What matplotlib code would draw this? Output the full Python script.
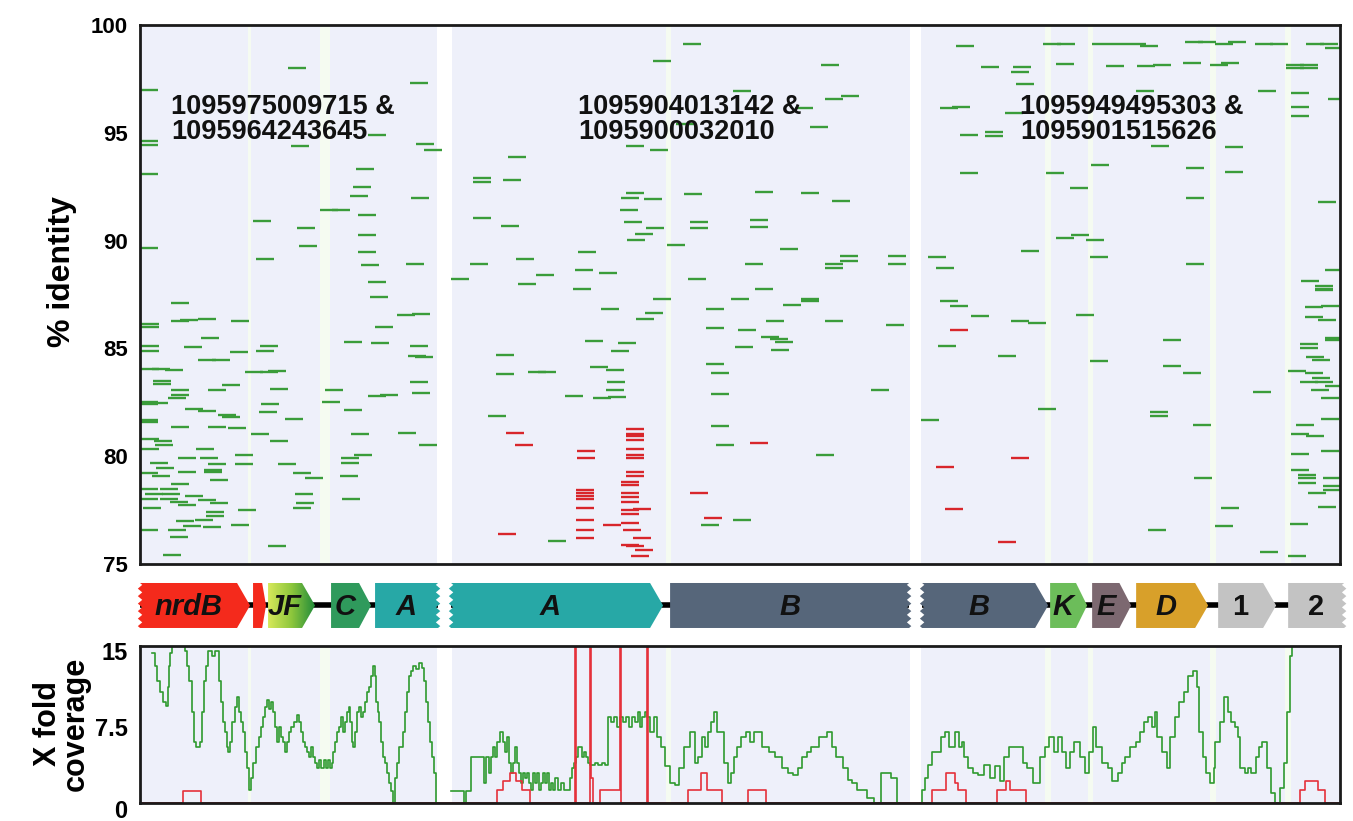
import numpy as np
import matplotlib.pyplot as plt
import matplotlib.transforms as mtransforms
from matplotlib.patches import Polygon
from matplotlib.colors import LinearSegmentedColormap

plt.rcParams['font.family'] = ['Liberation Sans', 'DejaVu Sans']

# ---------------- % identity hits (position along the three contigs, identity) ----------------
green_pos = [
    # contig 1 / left of contig 2
    0, 148, 270, 0, 0, 151, 228, 276, 284, 0,
    216, 213, 210, 271, 180, 192, 113, 157, 218, 218,
    159, 218, 0, 116, 221, 266, 228, 230, 368, 333,
    333, 363, 333, 361, 376, 330, 311, 378, 396,
    # contig 2 upper
    543, 513, 681, 593, 685, 701, 655, 670, 536, 486,
    510, 486, 481, 504, 544, 615, 661, 692, 480, 484,
    506, 495, 487, 550, 550, 610, 610, 527, 640, 438,
    435, 459, 433, 605, 615, 548, 685, 685, 700, 700,
    748, 748, 788, 796,
    # contig 3 upper
    816, 903, 917, 952, 970, 988, 1000, 1045, 1058, 1075,
    1088, 1115, 1130, 1166, 1180, 1185, 841, 873, 871, 876,
    916, 966, 997, 1013, 1043, 1070, 1081, 1146, 1160, 1146,
    1160, 996, 1118, 1151, 1188, 800, 812, 865, 820, 845,
    845, 1011, 1085, 1151, 1151, 820, 906, 951, 930, 1046,
    1085, 1046, 1178, 916, 931, 946, 881, 950, 1046, 1185,
    1161, 1175, 1175,
    # contig 1 lower
    31, 31, 40, 58, 91, 1, 1, 61, 44, 90,
    120, 116, 1, 1, 58, 72, 1, 12, 25, 13,
    13, 105, 120, 128, 82, 68, 31, 31, 28, 0,
    10, 0, 45, 58, 78, 82, 0, 0, 31, 68,
    88, 1, 14, 15, 1, 56, 95, 38, 60, 10,
    68, 95, 16, 64, 64, 38, 0, 12, 70, 31,
    0, 20, 5, 22, 45, 0, 20, 30, 38, 58,
    70, 3, 98, 66, 66, 55, 36, 43, 63, 91,
    28, 0, 30, 128, 23, 121, 119, 130, 111, 130,
    138, 145, 153, 165, 155, 156, 153, 185, 182, 204,
    211, 214, 201, 201, 200, 202, 204, 257, 272, 235,
    231, 270, 268, 275, 270, 272, 228, 240, 258, 279,
    356, 356, 388, 348,
    # contig 2 lower
    461, 513, 505, 496, 445, 478, 471, 450, 466, 467,
    466, 425, 453, 468, 398, 408, 566, 591, 643, 661,
    661, 626, 685, 746, 566, 598, 621, 630, 635, 595,
    631, 566, 571, 571, 731, 571, 576, 676, 781, 561,
    593,
    # contig 3 lower
    800, 810, 831, 871, 888, 936, 798, 858, 950, 1023,
    1023, 1043, 898, 1113, 1010, 1010, 1053, 1054, 1081, 1008,
    1075, 1120, 1148, 1175, 1165, 1181, 1165, 1178, 1185, 1185,
    1160, 1160, 1166, 1172, 1148, 1165, 1172, 1160, 1175, 1185,
    1171, 1181, 1181, 1156, 1151, 1166, 1181, 1151, 1151, 1158,
    1158, 1183, 1158, 1183, 1183, 1168, 1178, 1150,
]
green_ident = [
    97.0, 98.0, 97.3, 94.6, 94.45, 94.4, 94.9, 94.5, 94.2, 93.1,
    93.3, 92.5, 92.05, 92.0, 91.4, 91.4, 90.9, 90.6, 91.2, 90.25,
    89.75, 89.45, 89.65, 89.15, 88.85, 88.9, 88.1, 87.4, 93.9, 92.9,
    92.7, 92.8, 91.05, 90.7, 89.15, 88.9, 88.2, 88.0, 88.4,
    99.1, 98.35, 98.15, 96.95, 96.55, 96.7, 96.15, 95.25, 95.4, 94.4,
    94.2, 92.2, 92.0, 91.95, 92.15, 92.25, 92.2, 91.85, 91.4, 90.85,
    90.6, 90.3, 90.05, 90.85, 90.6, 90.95, 90.65, 89.8, 89.6, 89.45,
    88.65, 88.5, 87.75, 88.9, 87.75, 88.2, 88.9, 88.75, 89.3, 89.05,
    89.3, 88.9, 89.25, 88.75,
    99.05, 99.1, 99.1, 99.1, 99.1, 99.1, 99.05, 99.2, 99.2, 99.1,
    99.2, 99.1, 99.1, 99.1, 99.1, 98.95, 98.05, 98.05, 97.8, 97.25,
    98.2, 98.1, 98.1, 98.15, 98.25, 98.15, 98.25, 98.15, 98.15, 98.0,
    98.0, 96.95, 96.95, 96.85, 96.55, 96.15, 96.2, 95.9, 94.9, 95.05,
    94.85, 94.4, 94.35, 96.2, 95.8, 93.15, 93.15, 93.5, 92.45, 93.35,
    93.2, 92.0, 91.8, 90.1, 90.25, 90.05, 89.5, 89.25, 88.9, 88.65,
    88.15, 87.9, 87.75,
    87.1, 86.25, 86.3, 86.35, 86.25, 86.15, 86.0, 85.5, 85.05, 84.85,
    85.1, 84.9, 85.1, 84.9, 84.45, 84.45, 84.05, 84.05, 84.0, 83.5,
    83.35, 83.9, 83.9, 83.95, 83.3, 83.05, 83.05, 82.85, 82.7, 82.5,
    82.45, 82.4, 82.2, 82.1, 81.9, 81.8, 81.7, 81.6, 81.35, 81.35,
    81.3, 80.8, 80.7, 80.5, 80.35, 80.35, 80.05, 79.9, 79.9, 79.7,
    79.65, 79.65, 79.45, 79.35, 79.25, 79.25, 79.2, 79.1, 78.9, 78.7,
    78.5, 78.5, 78.25, 78.25, 78.15, 78.0, 78.0, 77.9, 77.75, 77.95,
    77.85, 77.6, 77.5, 77.4, 77.25, 77.05, 77.0, 76.75, 76.7, 76.8,
    76.6, 76.6, 76.25, 75.85, 75.4, 82.4, 82.05, 83.1, 81.05, 80.7,
    79.65, 81.75, 79.2, 79.0, 78.25, 77.85, 77.6, 83.05, 82.5, 82.15,
    81.05, 80.05, 79.9, 79.7, 79.1, 78.0, 85.3, 86.55, 86.6, 86.0,
    85.25, 85.1, 84.65, 84.6, 83.45, 82.95, 82.8, 82.85, 81.1, 80.5,
    84.7, 83.8, 83.9, 81.85,
    86.85, 87.3, 86.65, 86.35, 85.35, 85.25, 84.9, 84.15, 84.0, 83.45,
    83.05, 82.8, 82.7, 82.75, 83.9, 76.05, 86.85, 87.3, 87.0, 87.3,
    87.2, 86.25, 86.25, 86.1, 85.95, 85.85, 85.55, 85.45, 85.3, 85.05,
    84.95, 84.3, 83.85, 82.9, 83.05, 81.4, 80.5, 80.05, 81.7, 76.8,
    77.05,
    87.2, 86.95, 86.5, 86.25, 86.2, 86.55, 85.1, 84.65, 84.4, 85.4,
    84.2, 83.85, 82.2, 83.0, 82.05, 81.85, 81.45, 79.0, 77.6, 76.6,
    76.75, 75.55, 75.35, 87.7, 86.9, 86.95, 86.45, 86.3, 85.5, 85.4,
    85.2, 85.0, 84.6, 84.45, 83.95, 83.85, 83.65, 83.45, 83.45, 83.25,
    83.05, 82.7, 81.75, 81.45, 81.05, 80.95, 80.25, 80.1, 79.35, 79.15,
    79.0, 79.0, 78.75, 78.6, 78.45, 78.3, 77.65, 76.85,
]
red_pos = [
    366, 375, 358, 610, 796, 550, 564, 437, 437, 436,
    436, 436, 436, 436, 436, 436, 436, 463, 486, 486,
    486, 486, 486, 486, 486, 486, 486, 481, 481, 481,
    481, 481, 481, 481, 493, 481, 483, 493, 481, 486,
    495, 491, 810, 871, 805, 858,
]
red_ident = [
    81.1, 80.5, 76.4, 80.6, 79.5, 78.3, 77.15, 80.25, 79.9, 78.45,
    78.3, 78.15, 78.0, 77.6, 77.05, 76.6, 76.2, 76.8, 81.25, 81.05,
    80.95, 80.75, 80.35, 80.05, 79.9, 79.25, 79.1, 78.8, 78.65, 78.3,
    78.1, 77.9, 77.5, 77.3, 77.55, 76.9, 76.6, 76.2, 75.9, 75.85,
    75.65, 75.35, 85.85, 79.9, 77.55, 76.0,
]
hit_len = 18

pair_labels = ['1095975009715 &\n1095964243645',
               '1095904013142 &\n1095900032010',
               '1095949495303 &\n1095901515626']
pair_label_pos = [31, 438, 880]

# ---------------- coverage (step values) ----------------
cov1_x = [12, 15, 17, 20, 23, 26, 28, 29, 30, 32, 45, 47, 49, 52, 54, 56, 58, 60, 62, 64,
          66, 68, 72, 75, 79, 81, 83, 85, 87, 88, 90, 92, 95, 97, 99, 101, 103, 105, 107, 109,
          111, 113, 116, 119, 121, 123, 125, 127, 129, 131, 133, 135, 137, 139, 141, 143, 145, 147, 149, 151,
          154, 157, 159, 161, 163, 165, 167, 169, 171, 173, 175, 177, 179, 181, 184, 186, 188, 190, 192, 193,
          195, 197, 199, 201, 203, 205, 207, 209, 210, 212, 213, 215, 217, 219, 221, 223, 225, 227, 229, 231,
          233, 235, 236, 238, 239, 241, 243, 245, 247, 249, 251, 253, 255, 257, 259, 261, 263, 265, 267, 269,
          271, 273, 276, 279, 282, 284, 286, 288, 290, 292, 294, 296]
cov1_y = [14.8, 13.5, 12, 11, 10, 9.6, 11.5, 13.5, 14.8, 18, 15, 13.5, 12, 9, 6, 5.5, 5.5, 6, 9, 12,
          13.5, 15, 14.5, 15, 12, 10, 8, 7, 5.5, 5, 6, 8, 9.5, 10.5, 9, 8, 7, 5, 3.5, 1.3,
          2.5, 4, 5.5, 6.5, 7.5, 8.5, 9.5, 10.2, 9.3, 10, 9, 7.5, 6, 7.5, 6.5, 6, 5, 6, 7, 7.5,
          8, 8.7, 8, 7, 6, 5.5, 5, 4.5, 5.5, 4.5, 4, 3.5, 4.2, 3.5, 4.2, 3.5, 4.2, 3.5, 4, 5,
          6, 7, 7.5, 8.5, 7, 8, 9, 9.5, 8, 6, 5.5, 7, 9, 9.5, 8.5, 9, 10, 11, 11.5, 12.5,
          13.5, 12.5, 10, 9, 8, 6, 4.5, 4, 3, 2, 1.2, 0, 2.5, 4, 5.5, 5.5, 7, 9, 11, 12.5,
          13, 13.5, 13.2, 13.8, 13.3, 12, 10, 8, 6, 4.5, 3, 0]
cov2_x = [311, 324, 326, 331, 344, 346, 349, 351, 353, 355, 357, 360, 363, 365, 367, 369, 371, 373, 375, 377,
          379, 381, 383, 385, 387, 389, 391, 393, 395, 397, 399, 401, 403, 405, 407, 409, 411, 413, 415, 418,
          421, 424, 430, 432, 434, 436, 438, 442, 444, 446, 448, 450, 455, 458, 462, 465, 468, 471, 474, 477,
          480, 483, 486, 489, 492, 495, 498, 500, 502, 505, 507, 510, 514, 517, 521, 525, 530, 535, 539, 544,
          550, 555, 558, 562, 565, 568, 571, 574, 577, 584, 588, 591, 594, 597, 601, 606, 610, 614, 622, 629,
          635, 642, 648, 653, 658, 662, 667, 671, 679, 687, 692, 696, 703, 708, 712, 717, 727, 734, 741, 751,
          757]
cov2_y = [1.2, 0, 1.2, 4.5, 2, 4.5, 3, 4.5, 5.5, 4.5, 6, 7, 6, 5, 6.5, 4, 3, 4, 5.5, 4,
          3, 2, 3, 2.5, 3, 2, 1.3, 3, 2, 3, 1.3, 2, 3, 2, 3, 1.3, 2, 1.3, 2.5, 1.3,
          2, 1.3, 2.5, 3.5, 4, 4.5, 5.5, 4.5, 5, 4.5, 4, 3.8, 4, 3.8, 4, 3.8, 8.5, 8, 8.5, 7.5,
          8.5, 8, 8.5, 7.5, 8.5, 8, 9, 7.5, 8.5, 9, 8.5, 7, 8.5, 6.5, 5.5, 3.7, 2, 1.8, 3.5, 5.5,
          7, 4, 4.5, 6.5, 5.5, 7, 8, 9, 7, 4, 2, 3, 4.5, 5.5, 6.5, 7, 6, 7, 5.5, 5,
          4.5, 3.5, 3, 2.8, 3.5, 4.5, 5, 5.5, 6.5, 7, 5.5, 4.5, 3.5, 2.3, 2, 1.3, 0.5, 0, 3, 2.5,
          0]
cov3_x = [780, 782, 785, 788, 792, 801, 805, 809, 815, 819, 822, 824, 828, 833, 838, 844, 850, 855, 860, 864,
          869, 878, 883, 887, 893, 900, 905, 909, 914, 918, 922, 926, 930, 934, 940, 945, 949, 953, 956, 962,
          968, 972, 978, 982, 985, 990, 996, 1000, 1004, 1008, 1012, 1015, 1017, 1022, 1027, 1030, 1035, 1039, 1044, 1048,
          1053, 1057, 1059, 1063, 1066, 1070, 1074, 1075, 1080, 1084, 1088, 1091, 1095, 1098, 1100, 1105, 1108, 1111, 1116, 1119,
          1122, 1127, 1131, 1135, 1140, 1144, 1147, 1150, 1152]
cov3_y = [0, 1.3, 2.5, 3.8, 5, 6.5, 7, 5.5, 7, 5.5, 6, 4.5, 3.5, 3, 2.8, 3.8, 2.5, 3.7, 2.2, 4.5,
          5.5, 5.5, 4, 3.5, 2, 4.5, 5.5, 6.5, 5, 6.5, 5, 3.5, 5, 6, 4.5, 3, 5, 7.5, 5.5, 4,
          3.5, 2.2, 3, 4, 4.5, 5.5, 6, 7, 8, 8.5, 7.5, 9, 6.5, 5, 3.5, 6.5, 8.5, 10, 11, 12.5,
          13, 11.5, 7, 4.5, 3, 2, 3.5, 6, 8, 10.5, 9, 8, 7.5, 6.5, 3.5, 3, 3.5, 3, 4.5, 5.5,
          6, 3.5, 1, 0, 1.5, 4, 9, 14.5, 18]

red_cov_x = [0, 43, 61, 357, 363, 370, 376, 382, 390, 435, 436, 450, 451, 453, 460, 480, 481, 507, 508,
             548, 561, 567, 582, 608, 626, 792, 806, 815, 818, 826, 857, 866, 870, 886,
             1160, 1165, 1178, 1185, 1200]
red_cov_y = [0, 1.2, 0, 1.3, 2.2, 3, 2.2, 1.3, 0, 20, 0, 20, 2.5, 0, 1.3, 20, 0, 20, 0,
             1.3, 3, 1.3, 0, 1.3, 0, 1.3, 3, 2, 1.3, 0, 1.3, 2.2, 1.3, 0,
             1.3, 2.2, 1.3, 0, 0]

# ---------------- genes ----------------
gene_names = ['nrdB', '', 'JF', 'C', 'A', 'A', 'B', 'B', 'K', 'E', 'D', '1', '2']
gene_start = [0, 113, 128, 191, 235, 311, 530, 782, 910, 952, 996, 1078, 1148]
gene_end = [110, 126, 175, 231, 298, 523, 769, 908, 947, 991, 1068, 1136, 1204]
gene_colors = ['#f42a1c', '#f42a1c', None, '#2f9a5c', '#27a8a6', '#27a8a6',
               '#56667a', '#56667a', '#6cbd5a', '#7c6870', '#d8a02a', '#c3c3c3', '#c3c3c3']
cut_left = [0, 5, 7]      # genes truncated at their left end (contig edge)
cut_right = [4, 6, 12]    # genes truncated at their right end
contig_spans = [(0, 298), (311, 769), (782, 1200)]

# separators between contigs and faint gene-boundary bands
gaps = [(297, 312), (770, 781)]
band_left = [108, 180, 526, 905, 948, 1070, 1145]
band_right = [111, 190, 531, 911, 953, 1076, 1151]

fig = plt.figure(figsize=(13.53, 8.21), dpi=100)
ax1 = fig.add_axes([0.1035, 0.313, 0.887, 0.6565])
axg = fig.add_axes([0.1035, 0.2351, 0.887, 0.0548])
ax2 = fig.add_axes([0.1035, 0.0219, 0.887, 0.1912])

for ax in (ax1, ax2):
    ax.set_facecolor('#eef0fa')
    ax.set_xlim(0, 1200)
    for a, b in zip(band_left, band_right):
        ax.axvspan(a, b, color='#f5fbf1', lw=0, zorder=0)
    for a, b in gaps:
        ax.axvspan(a, b, color='white', lw=0, zorder=0)
    ax.set_xticks([])
    for s in ax.spines.values():
        s.set_linewidth(2)
        s.set_color('#1a1a1a')
    ax.tick_params(axis='y', length=0, pad=9)

# top: identity hits
gp = np.array(green_pos)
rp = np.array(red_pos)
ax1.hlines(green_ident, gp, gp + hit_len, colors='#3a9c3a', lw=1.7, zorder=2)
ax1.hlines(red_ident, rp, rp + hit_len, colors='#d8262b', lw=1.7, zorder=3)
ax1.set_ylim(75, 100)
ax1.set_yticks([75, 80, 85, 90, 95, 100])
ax1.set_yticklabels(['75', '80', '85', '90', '95', '100'], fontsize=16, fontweight='bold')
for lab, xp in zip(pair_labels, pair_label_pos):
    ax1.text(xp, 95.6, lab, fontsize=19.5, fontweight='bold', va='center', ha='left',
             linespacing=0.95, color='#111111', zorder=5)

# middle: gene map
axg.set_xlim(0, 1200)
axg.set_ylim(0, 1)
axg.axis('off')
for a, b in contig_spans:
    axg.plot([a, b], [0.5, 0.5], color='black', lw=4, solid_capstyle='butt', zorder=1)


def zigzag(x0, y0, y1, n=6, amp=2.2):
    t = np.linspace(0, 1, n * 4 + 1)
    return list(zip(x0 + amp * np.sin(t * n * 2 * np.pi), y0 + (y1 - y0) * t))


jf_cmap = LinearSegmentedColormap.from_list('jf', ['#d6e85a', '#8cc63c', '#1f8a3a'])
for i, (name, s, e, c) in enumerate(zip(gene_names, gene_start, gene_end, gene_colors)):
    tip = min(13, 0.3 * (e - s))
    pts = [(s, 0)]
    if i in cut_right:
        pts += [(e, 0)] + zigzag(e, 0, 1) + [(e, 1)]
        body_end = e
    else:
        pts += [(e - tip, 0), (e, 0.5), (e - tip, 1)]
        body_end = e - tip
    pts += [(s, 1)]
    if i in cut_left:
        pts += zigzag(s, 1, 0)
    if c is None:
        poly = Polygon(pts, closed=True, facecolor='none', edgecolor='none', clip_on=False, zorder=2)
        axg.add_patch(poly)
        im = axg.imshow(np.linspace(0, 1, 64)[None, :], cmap=jf_cmap, extent=[s, e, 0, 1],
                        aspect='auto', zorder=2)
        im.set_clip_path(poly)
    else:
        axg.add_patch(Polygon(pts, closed=True, facecolor=c, edgecolor='none', clip_on=False, zorder=2))
    if name:
        style = 'normal' if name.isdigit() else 'italic'
        axg.text((s + body_end) / 2, 0.47, name, fontsize=21, fontweight='bold', fontstyle=style,
                 ha='center', va='center', color='#111111', zorder=3)
axg.set_xlim(0, 1200)
axg.set_ylim(0, 1)

# bottom: coverage
ax2.plot(cov1_x, cov1_y, drawstyle='steps-post', color='#2f9a2f', lw=1.2, zorder=2.1)
ax2.plot(cov2_x, cov2_y, drawstyle='steps-post', color='#2f9a2f', lw=1.2, zorder=2.1)
ax2.plot(cov3_x, cov3_y, drawstyle='steps-post', color='#2f9a2f', lw=1.2, zorder=2.1)
ax2.plot(red_cov_x, red_cov_y, drawstyle='steps-post', color='#e5313a', lw=1.2, zorder=2.2)
ax2.set_ylim(0, 15.5)
ax2.set_yticks([0, 7.5, 15])
ax2.set_yticklabels(['0', '7.5', '15'], fontsize=17, fontweight='bold')
# the "0" sits a little below the frame in the original
zero_lab = ax2.get_yticklabels()[0]
zero_lab.set_transform(zero_lab.get_transform() +
                       mtransforms.ScaledTranslation(0, -4 / 72, fig.dpi_scale_trans))

fig.text(62 / 1353, 1 - 272 / 821, '% identity', rotation=90, fontsize=23, fontweight='bold',
         ha='center', va='center')
fig.text(62 / 1353, 1 - 724 / 821, 'X fold\ncoverage', rotation=90, fontsize=22, fontweight='bold',
         ha='center', va='center', multialignment='center', linespacing=0.92)

fig.savefig('out.png', dpi=100)
